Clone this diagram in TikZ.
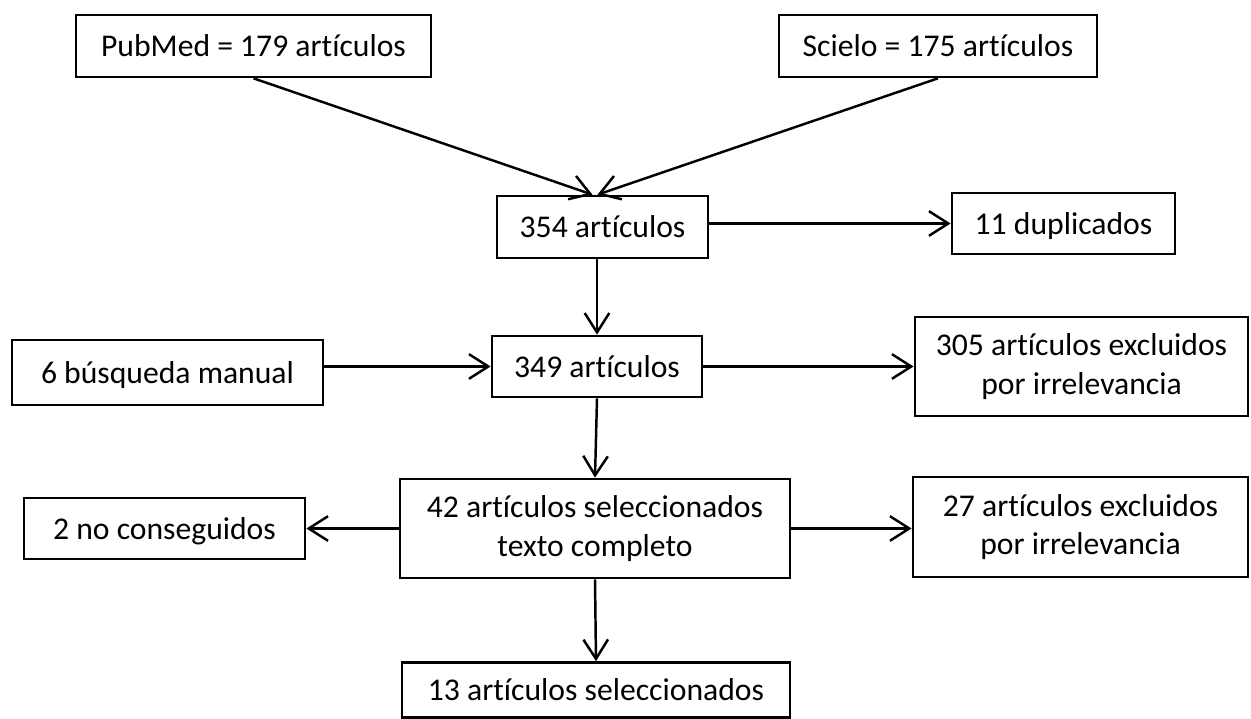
\documentclass[tikz,border=0pt]{standalone}
\usepackage{fontspec}
\setmainfont{Carlito}[Ligatures=NoCommon]
\usetikzlibrary{arrows.meta}
\tikzset{
    box/.style={draw,line width=0.75pt,inner sep=0pt,align=center,font=\fontsize{9}{10.9}\selectfont},
    onebox/.style={box,text height=8.4pt,text depth=2.2pt},
    link/.style={line width=0.7pt,-{Straight Barb[length=5.5pt,width=7pt]}},
}

\begin{document}
\begin{tikzpicture}[x=0.01cm,y=-0.01cm]
            \useasboundingbox (0,0) rectangle (1251,719);
            \node[onebox,minimum width=3.55cm,minimum height=0.62cm] (pubmed) at (253.5,46) {PubMed = 179 artículos};
            \node[onebox,minimum width=3.18cm,minimum height=0.62cm] (scielo) at (938,46) {Scielo = 175 artículos};
            \node[onebox,minimum width=2.11cm,minimum height=0.62cm] (n354) at (602.5,227) {354 artículos};
            \node[onebox,minimum width=2.23cm,minimum height=0.61cm] (dupl) at (1063.5,223.5) {11 duplicados};
            \node[onebox,minimum width=3.11cm,minimum height=0.65cm] (manual) at (167.5,372.5) {6 búsqueda manual};
            \node[onebox,minimum width=2.10cm,minimum height=0.61cm] (n349) at (597,366.5) {349 artículos};
            \node[box,minimum width=3.33cm,minimum height=0.99cm] (excl1) at (1081.5,366.5) {305 artículos excluidos\\por irrelevancia};
            \node[box,minimum width=3.90cm,minimum height=0.99cm] (n42) at (595,528.5) {42 artículos seleccionados\\texto completo};
            \node[onebox,minimum width=2.81cm,minimum height=0.61cm] (nocons) at (164.5,528.5) {2 no conseguidos};
            \node[box,minimum width=3.35cm,minimum height=1.00cm] (excl2) at (1080.5,527) {27 artículos excluidos\\por irrelevancia};
            \node[onebox,minimum width=3.88cm,minimum height=0.55cm] (n13) at (596,690) {13 artículos seleccionados};
            \draw[link] (pubmed.south) -- ([xshift=-0.1cm]n354.north);
            \draw[link] (scielo.south) -- ([xshift=-0.05cm]n354.north);
            \draw[link] (dupl.west -| n354.east) -- (dupl.west);
            \draw[link] (n354.south -| n349.north) -- (n349.north);
            \draw[link] (manual.east |- n349.west) -- (n349.west);
            \draw[link] (n349.east) -- (n349.east -| excl1.west);
            \draw[link] (n349.south) -- (n42.north);
            \draw[link] (n42.west) -- (n42.west -| nocons.east);
            \draw[link] (n42.east) -- (n42.east -| excl2.west);
            \draw[link] (n42.south) -- (n13.north);
        \end{tikzpicture}
\end{document}
